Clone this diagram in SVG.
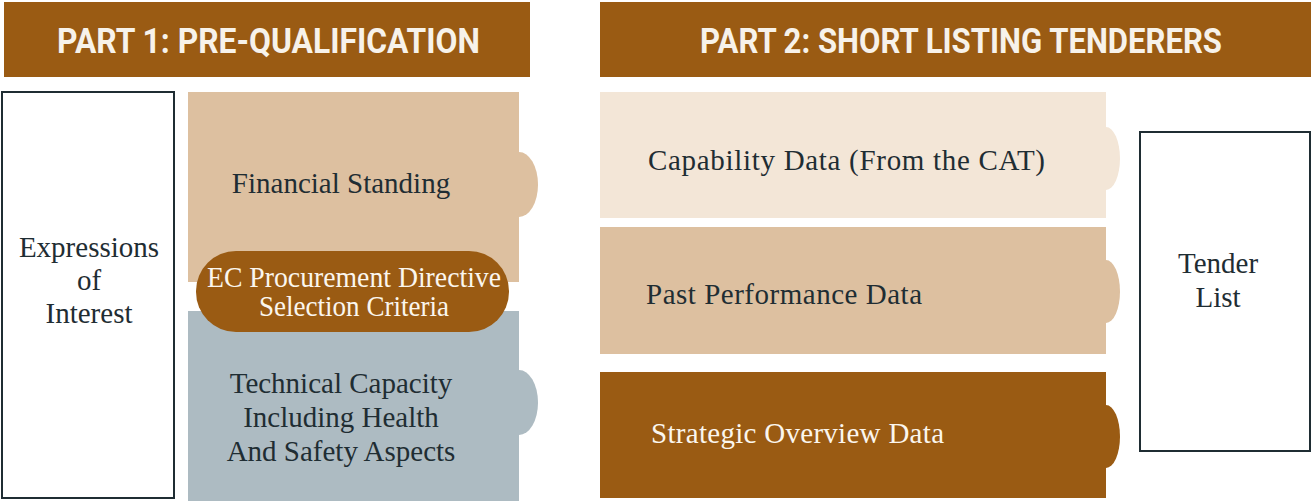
<svg xmlns="http://www.w3.org/2000/svg" width="1311" height="501" viewBox="0 0 1311 501">
<style>
.hdr{fill:#9a5b13}
.htxt{font-family:Roboto,"Open Sans","DejaVu Sans",sans-serif;font-weight:bold;font-size:35px;fill:#f7f2ea;text-anchor:middle}
.t{font-family:"Liberation Serif","DejaVu Serif",serif;font-size:29px;fill:#1f2d33}
.w{fill:#fbf6ee}
.c{text-anchor:middle}
.box{fill:#ffffff;stroke:#1f2d33;stroke-width:2}
.tan{fill:#ddc0a0}
.grey{fill:#adbbc2}
.brown{fill:#9a5b13}
.cream{fill:#f3e6d7}
</style>
<g id="header1">
<rect class="hdr" x="4" y="2" width="526" height="75"/>
<text class="htxt" x="268.5" y="53" textLength="423" lengthAdjust="spacingAndGlyphs">PART 1: PRE-QUALIFICATION</text>
</g>
<g id="header2">
<rect class="hdr" x="600" y="2" width="711" height="75"/>
<text class="htxt" x="961" y="53" textLength="522" lengthAdjust="spacingAndGlyphs">PART 2: SHORT LISTING TENDERERS</text>
</g>
<g id="expressions">
<rect class="box" x="2" y="92" width="172" height="406"/>
<text class="t c" x="89" y="257">Expressions</text>
<text class="t c" x="89" y="290">of</text>
<text class="t c" x="89" y="323">Interest</text>
</g>
<g id="financial">
<rect class="tan" x="188" y="92" width="331" height="190"/>
<path class="tan" d="M519,152 A19,32.5 0 0 1 519,217 Z"/>
<text class="t c" x="341" y="193">Financial Standing</text>
</g>
<g id="technical">
<rect class="grey" x="188" y="311" width="331" height="190"/>
<path class="grey" d="M519,370 A19,32.5 0 0 1 519,435 Z"/>
<text class="t c" x="341" y="393">Technical Capacity</text>
<text class="t c" x="341" y="427">Including Health</text>
<text class="t c" x="341" y="461">And Safety Aspects</text>
</g>
<g id="ec">
<rect class="brown" x="196" y="251" width="313" height="81" rx="40" ry="40"/>
<text class="t w c" x="354" y="287" font-size="28" textLength="294" lengthAdjust="spacingAndGlyphs">EC Procurement Directive</text>
<text class="t w c" x="354" y="316" font-size="28" textLength="190" lengthAdjust="spacingAndGlyphs">Selection Criteria</text>
</g>
<g id="capability">
<rect class="cream" x="600" y="92" width="506" height="126"/>
<path class="cream" d="M1106,127 A14,31.5 0 0 1 1106,190 Z"/>
<text class="t" x="648" y="170" textLength="397">Capability Data (From the CAT)</text>
</g>
<g id="past">
<rect class="tan" x="600" y="227" width="506" height="127"/>
<path class="tan" d="M1106,260 A14,31.5 0 0 1 1106,323 Z"/>
<text class="t" x="646" y="304" textLength="276">Past Performance Data</text>
</g>
<g id="strategic">
<rect class="brown" x="600" y="372" width="506" height="126"/>
<path class="brown" d="M1106,405 A14,31.5 0 0 1 1106,468 Z"/>
<text class="t w" x="651" y="443" textLength="293">Strategic Overview Data</text>
</g>
<g id="tender">
<rect class="box" x="1140" y="132" width="170" height="319"/>
<text class="t c" x="1218" y="273">Tender</text>
<text class="t c" x="1218" y="307">List</text>
</g>
<g id="connectors"></g>
</svg>
